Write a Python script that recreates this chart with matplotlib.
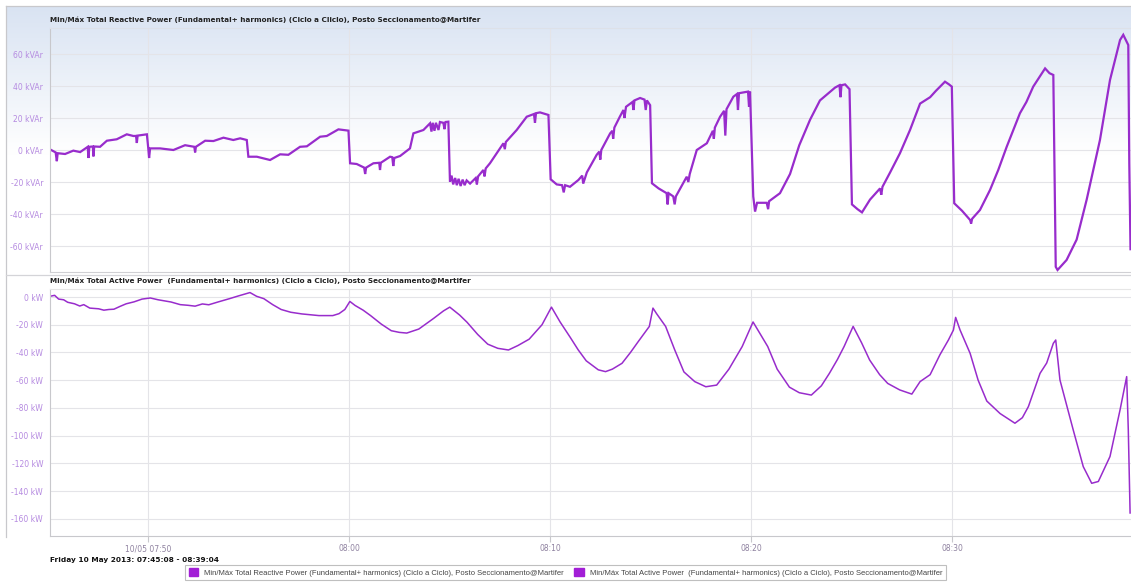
import matplotlib
matplotlib.use("Agg")
import matplotlib.pyplot as plt
import numpy as np
from matplotlib.patches import Patch

# ---- data (time in minutes of day, 07:45:08 -> 465.13) ----
reactive_t = [465.12, 465.40, 465.46, 465.50, 465.87, 466.28, 466.62, 467.00, 467.03, 467.08,
              467.25, 467.28, 467.32, 467.61, 467.95, 468.44, 468.94, 469.27, 469.40, 469.44,
              469.48, 469.94, 470.01, 470.05, 470.10, 470.60, 471.26, 471.84, 472.30, 472.34,
              472.38, 472.84, 473.25, 473.75, 474.24, 474.58, 474.91, 474.99, 475.41, 476.07,
              476.57, 476.98, 477.56, 477.90, 478.56, 478.89, 479.47, 479.97, 480.05, 480.38,
              480.75, 480.80, 480.85, 481.21, 481.50, 481.54, 481.58, 482.04, 482.15, 482.20,
              482.25, 482.54, 483.03, 483.20, 483.70, 484.03, 484.10, 484.16, 484.25, 484.32,
              484.45, 484.52, 484.69, 484.75, 484.80, 484.94, 485.02, 485.10, 485.18, 485.28,
              485.36, 485.45, 485.55, 485.65, 485.75, 485.85, 486.02, 486.30, 486.36, 486.42,
              486.68, 486.74, 486.80, 487.01, 487.68, 487.75, 487.80, 488.34, 488.84, 489.20,
              489.25, 489.30, 489.50, 489.92, 490.03, 490.33, 490.60, 490.68, 490.75, 490.99,
              491.41, 491.60, 491.65, 491.83, 492.32, 492.45, 492.50, 492.55, 492.99, 493.10,
              493.14, 493.20, 493.48, 493.65, 493.70, 493.78, 494.10, 494.15, 494.20, 494.48,
              494.70, 494.76, 494.82, 494.98, 495.07, 495.40, 495.80, 495.85, 495.90, 496.13,
              496.20, 496.26, 496.80, 496.88, 496.95, 497.30, 497.80, 498.10, 498.15, 498.20,
              498.46, 498.66, 498.72, 498.78, 499.12, 499.30, 499.35, 499.40, 499.85, 499.90,
              499.95, 500.11, 500.20, 500.30, 500.78, 500.85, 500.90, 501.44, 501.94, 502.40,
              502.94, 503.43, 504.18, 504.40, 504.45, 504.50, 504.68, 504.90, 505.02, 505.30,
              505.52, 505.92, 506.42, 506.48, 506.54, 506.92, 507.41, 507.91, 508.41, 508.91,
              509.20, 509.65, 509.85, 509.99, 510.11, 510.50, 510.90, 510.95, 511.00, 511.39,
              511.89, 512.30, 512.72, 513.38, 513.70, 514.04, 514.63, 514.85, 515.04, 515.16,
              515.25, 515.70, 516.20, 516.70, 517.36, 517.86, 518.36, 518.52, 518.77, 518.82,
              518.88]
reactive_kvar = [0.4, -1.5, -7.0, -2.0, -2.5, -0.4, -1.3, 2.0, -5.0, 2.0,
                 2.2, -4.0, 2.2, 2.0, 5.8, 6.7, 9.8, 8.75, 8.8, 4.4,
                 9.0, 9.8, 1.0, -5.0, 1.0, 1.0, 0.0, 3.0, 2.0, -1.5,
                 2.0, 5.8, 5.6, 7.7, 6.25, 7.3, 6.25, -4.2, -4.2, -6.25,
                 -2.7, -3.0, 2.0, 2.3, 8.3, 8.75, 12.9, 12.1, -8.3, -8.75,
                 -11.0, -15.0, -11.0, -8.3, -8.0, -12.5, -8.0, -4.2, -4.5, -10.0,
                 -5.0, -3.75, 1.0, 10.4, 12.5, 16.7, 11.5, 17.0, 12.0, 17.0,
                 12.5, 17.5, 17.0, 13.0, 17.5, 17.7, -19.8, -16.0, -21.5, -17.5,
                 -22.0, -18.0, -22.5, -18.5, -22.0, -19.0, -21.0, -17.5, -21.5, -16.5,
                 -12.5, -16.5, -11.5, -8.3, 4.2, 0.5, 5.0, 12.5, 20.8, 22.5,
                 17.0, 23.0, 23.5, 21.9, -18.3, -21.5, -22.0, -26.5, -22.0, -23.0,
                 -18.75, -16.0, -21.0, -14.0, -3.0, -1.0, -6.0, 0.0, 10.4, 12.0,
                 7.0, 14.0, 21.0, 25.0, 20.0, 27.0, 30.0, 25.0, 31.0, 32.5,
                 31.5, 25.0, 31.0, 28.0, -20.8, -24.0, -27.0, -34.0, -27.0, -29.0,
                 -34.0, -29.0, -16.7, -20.0, -15.0, 0.0, 4.2, 12.0, 7.0, 14.0,
                 20.8, 24.5, 9.0, 25.5, 33.3, 35.0, 25.0, 35.5, 36.5, 27.0,
                 36.5, -29.0, -38.5, -33.0, -33.0, -37.0, -32.0, -27.0, -15.0, 3.0,
                 19.0, 31.0, 39.0, 40.5, 33.0, 40.5, 41.0, 38.0, -34.0, -37.0,
                 -39.0, -31.0, -24.0, -28.0, -23.0, -14.0, -2.0, 12.5, 29.0, 33.0,
                 37.0, 42.7, 41.0, 39.6, -33.3, -38.0, -43.75, -46.0, -43.0, -37.5,
                 -25.0, -12.5, 2.0, 23.0, 30.0, 39.6, 51.0, 48.0, 46.9, -73.0,
                 -75.0, -68.75, -56.0, -31.0, 6.25, 43.75, 68.75, 72.0, 65.6, -8.3,
                 -62.0]

active_t = [465.12, 465.35, 465.55, 465.80, 466.00, 466.34, 466.60, 466.80, 467.10, 467.54,
            467.80, 468.05, 468.30, 468.60, 468.91, 469.30, 469.70, 470.11, 470.50, 471.14,
            471.60, 472.00, 472.34, 472.70, 473.02, 473.50, 474.05, 474.50, 475.07, 475.40,
            475.76, 476.20, 476.62, 477.10, 477.65, 478.50, 479.19, 479.50, 479.79, 480.04,
            480.30, 480.70, 481.07, 481.60, 482.10, 482.50, 482.87, 483.47, 484.20, 484.70,
            485.01, 485.50, 485.87, 486.40, 486.90, 487.40, 487.93, 488.40, 488.96, 489.60,
            490.07, 490.50, 491.00, 491.40, 491.80, 492.40, 492.76, 493.10, 493.58, 494.00,
            494.39, 494.94, 495.12, 495.30, 495.75, 496.20, 496.66, 497.20, 497.75, 498.29,
            498.90, 499.56, 500.10, 500.83, 501.30, 501.91, 502.40, 503.00, 503.50, 503.90,
            504.30, 504.63, 505.08, 505.50, 505.90, 506.40, 506.80, 507.40, 508.00, 508.41,
            508.91, 509.40, 509.82, 510.07, 510.18, 510.40, 510.90, 511.30, 511.73, 512.39,
            513.13, 513.50, 513.80, 514.38, 514.71, 515.04, 515.16, 515.37, 516.03, 516.53,
            516.95, 517.28, 517.86, 518.36, 518.69, 518.77, 518.86]
active_kw = [0.5, 1.2, -1.5, -2.0, -3.8, -4.9, -6.5, -5.5, -8.0, -8.5,
             -9.5, -9.0, -8.8, -6.8, -4.9, -3.5, -1.5, -0.7, -2.0, -3.6,
             -5.5, -6.0, -6.6, -5.0, -5.6, -3.5, -1.2, 0.8, 3.2, 0.5,
             -1.2, -5.5, -9.0, -11.0, -12.2, -13.4, -13.4, -12.0, -9.0, -3.2,
             -6.1, -9.5, -13.4, -19.5, -24.3, -25.5, -26.0, -23.1, -15.5, -10.0,
             -7.3, -13.0, -18.2, -27.0, -34.0, -37.0, -38.2, -35.0, -30.4, -20.0,
             -7.3, -18.0, -29.0, -38.1, -46.0, -52.5, -53.8, -52.0, -47.8, -40.0,
             -32.1, -21.2, -8.0, -12.0, -21.2, -38.0, -54.0, -61.0, -64.7, -63.5,
             -52.0, -35.7, -18.0, -35.7, -52.0, -65.0, -69.0, -70.7, -64.0, -55.0,
             -45.0, -35.7, -21.2, -33.0, -45.4, -56.0, -62.3, -67.0, -70.0, -61.0,
             -56.0, -41.6, -31.0, -23.8, -14.7, -23.8, -40.6, -60.0, -75.0, -84.0,
             -91.0, -87.0, -79.0, -55.0, -47.6, -33.4, -31.0, -59.8, -95.8, -122.3,
             -134.3, -133.0, -115.0, -81.4, -57.4, -95.6, -155.7]

time_ticks = [470, 480, 490, 500, 510]
time_labels = ["10/05 07:50", "08:00", "08:10", "08:20", "08:30"]
reactive_ticks = [60, 40, 20, 0, -20, -40, -60]
active_ticks = [0, -20, -40, -60, -80, -100, -120, -140, -160]

title_reactive = "Min/Máx Total Reactive Power (Fundamental+ harmonics) (Ciclo a Cliclo), Posto Seccionamento@Martifer"
title_active = "Min/Máx Total Active Power  (Fundamental+ harmonics) (Ciclo a Ciclo), Posto Seccionamento@Martifer"
legend_labels = ["Min/Máx Total Reactive Power (Fundamental+ harmonics) (Ciclo a Ciclo), Posto Seccionamento@Martifer",
                 "Min/Máx Total Active Power  (Fundamental+ harmonics) (Ciclo a Ciclo), Posto Seccionamento@Martifer"]
period_text = "Friday 10 May 2013: 07:45:08 - 08:39:04"

LINE = "#982ccc"
SWATCH = "#a21ed6"
TICK = "#b58ae0"
XTICK = "#8f82a0"
GRID = "#e4e4e8"
FRAME = "#c8c8cc"

W, H = 1131, 584
fig = plt.figure(figsize=(W / 100, H / 100), dpi=100)
fig.patch.set_facecolor("white")


def fx(px):
    return px / W


def fy(py):
    return 1 - py / H


# bluish gradient behind the upper panel
bg = fig.add_axes([fx(6), fy(275), 1 - fx(6), (275 - 6) / H], zorder=0)
grad = np.linspace(0, 1, 256)
top_c = np.array([0.85, 0.89, 0.95])
col = top_c[None, :] + (1 - top_c[None, :]) * np.clip(grad / 0.55, 0, 1)[:, None]
bg.imshow(col[:, None, :], aspect="auto", extent=[0, 1, 0, 1], origin="upper")
bg.set_axis_off()

x0, x1 = 465.12, 518.905

ax1 = fig.add_axes([fx(50), fy(272), 1 - fx(50), (272 - 28) / H], zorder=2)
ax2 = fig.add_axes([fx(50), fy(536), 1 - fx(50), (536 - 289) / H], zorder=2)

for ax in (ax1, ax2):
    ax.set_facecolor("none")
    ax.set_xlim(x0, x1)
    ax.set_xticks(time_ticks)
    ax.grid(True, color=GRID, linewidth=0.8)
    ax.set_axisbelow(True)
    for s in ("top", "right"):
        ax.spines[s].set_visible(False)
    ax.spines["left"].set_color(FRAME)
    ax.spines["bottom"].set_color(FRAME)
    ax.spines["left"].set_linewidth(0.8)
    ax.spines["bottom"].set_linewidth(0.8)
    ax.tick_params(axis="y", length=0, pad=5, labelsize=5.5, labelcolor=TICK)

ax1.spines["top"].set_visible(True)
ax1.spines["top"].set_color("#dde1e8")
ax1.set_ylim(-76.25, 76.25)
ax1.set_yticks(reactive_ticks)
ax1.set_yticklabels([f"{v} kVAr" for v in reactive_ticks])
ax1.tick_params(axis="x", length=0, labelbottom=False)
ax1.spines["bottom"].set_color("#d0d0d4")
ax1.plot(reactive_t, reactive_kvar, color=LINE, linewidth=1.6, solid_joinstyle="miter")

ax2.spines["top"].set_visible(True)
ax2.spines["top"].set_color("#e6e6e6")
ax2.set_ylim(-172.3, 5.77)
ax2.set_yticks(active_ticks)
ax2.set_yticklabels([f"{v} kW" for v in active_ticks])
ax2.set_xticklabels(time_labels)
ax2.tick_params(axis="x", length=4, color=FRAME, labelsize=5.5, labelcolor=XTICK, pad=2)
ax2.plot(active_t, active_kw, color=LINE, linewidth=1.1)

# outer frame lines
fig.add_artist(plt.Line2D([fx(6), fx(6)], [fy(6), fy(537)], color=FRAME, linewidth=0.9))
fig.add_artist(plt.Line2D([fx(6), 1], [fy(6), fy(6)], color=FRAME, linewidth=0.9))
fig.add_artist(plt.Line2D([fx(6), 1], [fy(275), fy(275)], color="#d4d4d8", linewidth=0.9))

# panel titles
fig.text(fx(50), fy(20), title_reactive, fontsize=5.2, fontweight="bold", color="#222222",
         ha="left", va="center")
fig.text(fx(50), fy(281), title_active, fontsize=5.2, fontweight="bold", color="#222222",
         ha="left", va="center")
fig.text(fx(50), fy(560), period_text, fontsize=5.3, fontweight="bold", color="#111111",
         ha="left", va="center")

handles = [Patch(facecolor=SWATCH, edgecolor=SWATCH), Patch(facecolor=SWATCH, edgecolor=SWATCH)]
leg = fig.legend(handles, legend_labels, loc="center",
                 bbox_to_anchor=(fx((187 + 944) / 2), fy(572.5)), ncol=2,
                 frameon=True, fancybox=False, edgecolor="#b0b0b0",
                 handlelength=1.25, handleheight=1.25, handletextpad=0.75,
                 columnspacing=1.4, borderpad=0.45, prop={"family": "Liberation Sans", "size": 5.5})
leg.get_frame().set_linewidth(0.8)
for t in leg.get_texts():
    t.set_color("#444444")

fig.savefig("out.png", dpi=100)
